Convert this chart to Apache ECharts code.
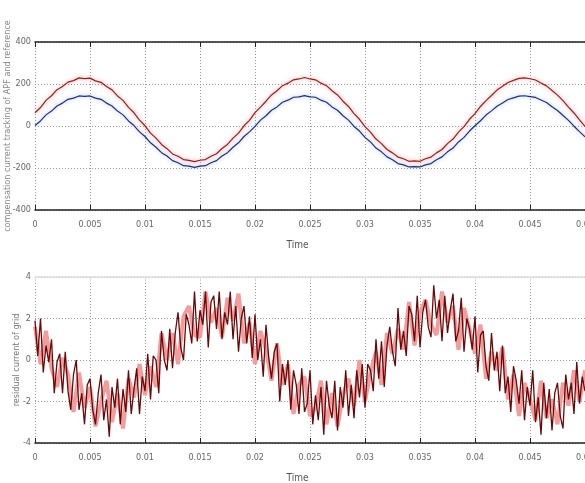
<!DOCTYPE html>
<html>
<head>
<meta charset="utf-8">
<script src="https://cdn.jsdelivr.net/npm/echarts@6/dist/echarts.min.js"></script>
<style>
  html, body { margin: 0; padding: 0; background: #fff; }
  #main { width: 585px; height: 483px; }
</style>
</head>
<body>
<div id="main"></div>
<script>
// sample steps (s)
var stepTop = 0.0005;
var stepRedDark = 0.00025;
var stepPink = 0.0005;

// top plot: reference current (red) and actual current (blue)
var refCurrent = [
  63,88,122,144,173,188,209,216,229,226,228,215,208,188,172,143,122,89,63,28,1,-34,-58,-88,-108,-133,-144,-160,-164,-170,-163,-160,-144,-132,-107,-88,-58,-34,1,27,
  64,90,118,148,168,192,204,220,224,231,224,220,204,192,168,148,118,93,59,32,-3,-29,-62,-84,-112,-128,-148,-156,-168,-166,-168,-156,-148,-128,-112,-84,-62,-29,-3,32,
  59,93,121,145,171,189,207,217,227,229,225,219,205,191,169,147,121,90,62,29,-2
];
var actCurrent = [
  2,24,53,71,95,109,127,133,143,141,143,133,127,109,95,71,53,24,2,-28,-50,-80,-101,-127,-143,-165,-175,-189,-191,-197,-191,-189,-175,-165,-143,-127,-101,-80,-50,-28,
  -2,28,49,75,91,113,123,137,139,145,139,137,123,113,91,75,49,28,-2,-24,-54,-76,-105,-123,-147,-161,-179,-185,-195,-193,-195,-185,-179,-161,-147,-123,-105,-76,-54,-24,
  1,25,52,72,94,110,126,134,142,144,140,136,124,112,92,74,50,27,-1,-27,-51
];

// bottom plot: residual current of grid (dark trace + pale trace)
var residualDark = [
  1.9,0.2,2.0,-0.6,0.7,-0.1,1.0,-1.6,-0.1,0.3,-1.6,0.4,-1.5,-2.4,-0.7,0.0,-2.4,-1.6,-3.1,-1.2,
  -0.9,-2.4,-3.1,-1.6,-0.7,-2.9,-1.9,-3.7,-1.3,-2.3,-0.9,-3.1,-1.4,-2.5,-0.5,-2.6,-1.4,-0.4,-2.6,-0.8,
  -1.5,0.3,-1.9,0.2,0.0,-1.6,1.4,0.0,-0.5,1.5,-0.4,1.3,2.3,0.6,0.0,2.2,1.7,0.8,3.3,0.9,
  2.4,1.7,3.3,0.6,2.8,3.1,1.5,3.3,1.0,2.3,1.7,3.3,1.0,2.6,0.4,2.0,2.6,0.8,2.1,0.1,
  2.2,0.0,1.0,-0.8,1.7,0.1,-0.9,0.4,0.8,-2.0,-0.2,-1.2,0.0,-2.4,-0.5,-1.2,-2.6,-0.4,-2.5,-2.1,
  -0.5,-3.1,-1.7,-2.9,-1.3,-3.6,-1.0,-2.2,-2.8,-1.0,-3.4,-1.3,-2.3,-0.5,-2.7,-1.2,-2.8,-0.5,-1.8,-0.2,
  -2.3,-0.2,-0.5,-1.5,1.0,-0.9,0.9,-1.3,0.7,1.6,0.4,-0.3,2.5,0.5,1.4,0.2,2.6,2.2,0.9,3.1,
  0.6,2.3,2.9,1.6,1.1,3.6,2.0,2.9,0.9,3.1,1.3,2.4,3.2,0.9,1.4,3.0,0.4,2.0,1.5,0.5,
  2.1,-0.6,1.2,1.4,-0.3,-1.0,1.3,-0.5,0.4,-1.5,0.7,-1.6,-0.8,-2.5,-0.3,-1.0,-2.1,-0.5,-2.9,-1.3,
  -2.2,-0.5,-3.0,-1.8,-3.6,-1.1,-2.8,-1.4,-3.4,-1.6,-1.1,-2.7,-3.3,-0.7,-1.9,-1.1,-2.6,-0.1,-2.1,-0.8,
  -1.5
];
var residualPale = [
  1.6,-0.2,1.4,-0.4,-1.3,0.1,-0.7,-2.5,-0.6,-2.3,-1.3,-3.2,-2.0,-1.0,-3.0,-1.6,-3.3,-0.9,-1.8,-0.2,
  -1.7,-0.3,-1.3,1.3,0.0,1.3,-0.2,2.1,2.6,1.2,1.1,3.3,1.8,2.5,1.1,3.0,1.9,3.2,0.8,1.8,
  -0.2,1.4,0.5,-1.0,0.8,-1.2,-0.2,-2.6,-1.2,-0.8,-2.7,-2.3,-1.0,-3.1,-1.6,-3.2,-1.7,-0.9,-2.2,0.0,
  -2.0,-0.6,0.4,-1.2,1.3,0.3,1.5,0.5,2.8,0.7,2.3,2.9,1.7,1.2,3.3,1.8,2.6,0.5,2.5,1.5,
  0.3,1.7,-0.9,0.4,-0.5,0.6,-1.9,-0.7,-2.7,-1.1,-1.9,-2.9,-1.0,-2.8,-1.9,-3.1,-1.1,-2.2,-0.5,-2.0,
  -0.5
];

var topName = 'compensation current tracking of APF and reference';
var bottomName = 'residual current of grid';

var xTicks = { min: 0, max: 0.05, interval: 0.005 };
var topTicks = { min: -400, max: 400, interval: 200 };
var bottomTicks = { min: -4, max: 4, interval: 2 };

function pairs(values, step) {
  return values.map(function (v, i) { return [+(i * step).toFixed(5), v]; });
}

var font = 'Liberation Sans Narrow, DejaVu Sans Condensed, sans-serif';
var labelStyle = { color: '#666', fontSize: 9, fontFamily: font };
var dotted = { show: true, lineStyle: { color: '#9a9a9a', type: [1, 2], width: 1 } };

function bottomX(gi) {
  return {
    type: 'value', gridIndex: gi, min: xTicks.min, max: xTicks.max, interval: xTicks.interval,
    name: 'Time', nameLocation: 'middle', nameGap: 30,
    nameTextStyle: { color: '#555', fontSize: 10, fontFamily: font, padding: [0, 25, 0, 0] },
    axisLine: { show: true, onZero: false, lineStyle: { color: '#222', width: 1.5 } },
    axisTick: { show: true, inside: true, length: 5, lineStyle: { color: '#222' } },
    axisLabel: Object.assign({ margin: 10, showMaxLabel: true }, labelStyle),
    splitLine: dotted
  };
}
function topX(gi, col) {
  return {
    type: 'value', gridIndex: gi, position: 'top', min: xTicks.min, max: xTicks.max, interval: xTicks.interval,
    axisLine: { show: true, onZero: false, lineStyle: { color: col, width: 1.5 } },
    axisTick: { show: true, inside: true, length: 5, lineStyle: { color: col } },
    axisLabel: { show: false }, splitLine: { show: false }
  };
}
function leftY(gi, t) {
  return {
    type: 'value', gridIndex: gi, min: t.min, max: t.max, interval: t.interval,
    axisLine: { show: false }, axisTick: { show: false },
    axisLabel: Object.assign({ margin: 4 }, labelStyle),
    splitLine: dotted
  };
}

var myChart = echarts.init(document.getElementById('main'), null, { renderer: 'canvas' });

var option = {
  backgroundColor: '#fff',
  animation: false,
  grid: [
    { left: 35, right: 0, top: 42, height: 168, containLabel: false, outerBoundsMode: 'none' },
    { left: 35, right: 0, top: 277, height: 166, containLabel: false, outerBoundsMode: 'none' }
  ],
  graphic: [
    {
      type: 'text', x: 8, y: 126, rotation: Math.PI / 2,
      style: { text: topName, fill: '#888', font: '9px ' + font, align: 'center', verticalAlign: 'middle' }
    },
    {
      type: 'text', x: 17, y: 360, rotation: Math.PI / 2,
      style: { text: bottomName, fill: '#777', font: '9px ' + font, align: 'center', verticalAlign: 'middle' }
    }
  ],
  xAxis: [bottomX(0), topX(0, '#222'), bottomX(1), topX(1, '#ddd')],
  yAxis: [leftY(0, topTicks), leftY(1, bottomTicks)],
  series: [
    {
      name: 'actual', type: 'line', xAxisIndex: 0, yAxisIndex: 0, symbol: 'none',
      data: pairs(actCurrent, stepTop),
      lineStyle: { color: '#1f2f7e', width: 1.2, shadowColor: 'rgba(120,150,230,0.7)', shadowBlur: 4 }
    },
    {
      name: 'reference', type: 'line', xAxisIndex: 0, yAxisIndex: 0, symbol: 'none',
      data: pairs(refCurrent, stepTop),
      lineStyle: { color: '#9c1c1c', width: 1.2, shadowColor: 'rgba(255,110,110,0.8)', shadowBlur: 4 }
    },
    {
      name: 'pale', type: 'line', xAxisIndex: 2, yAxisIndex: 1, symbol: 'none',
      data: pairs(residualPale, stepPink),
      lineStyle: { color: '#f39c9c', width: 4 }
    },
    {
      name: 'dark', type: 'line', xAxisIndex: 2, yAxisIndex: 1, symbol: 'none',
      data: pairs(residualDark, stepRedDark),
      lineStyle: { color: '#6a0808', width: 1.3 }
    }
  ]
};

myChart.setOption(option);
</script>
</body>
</html>
